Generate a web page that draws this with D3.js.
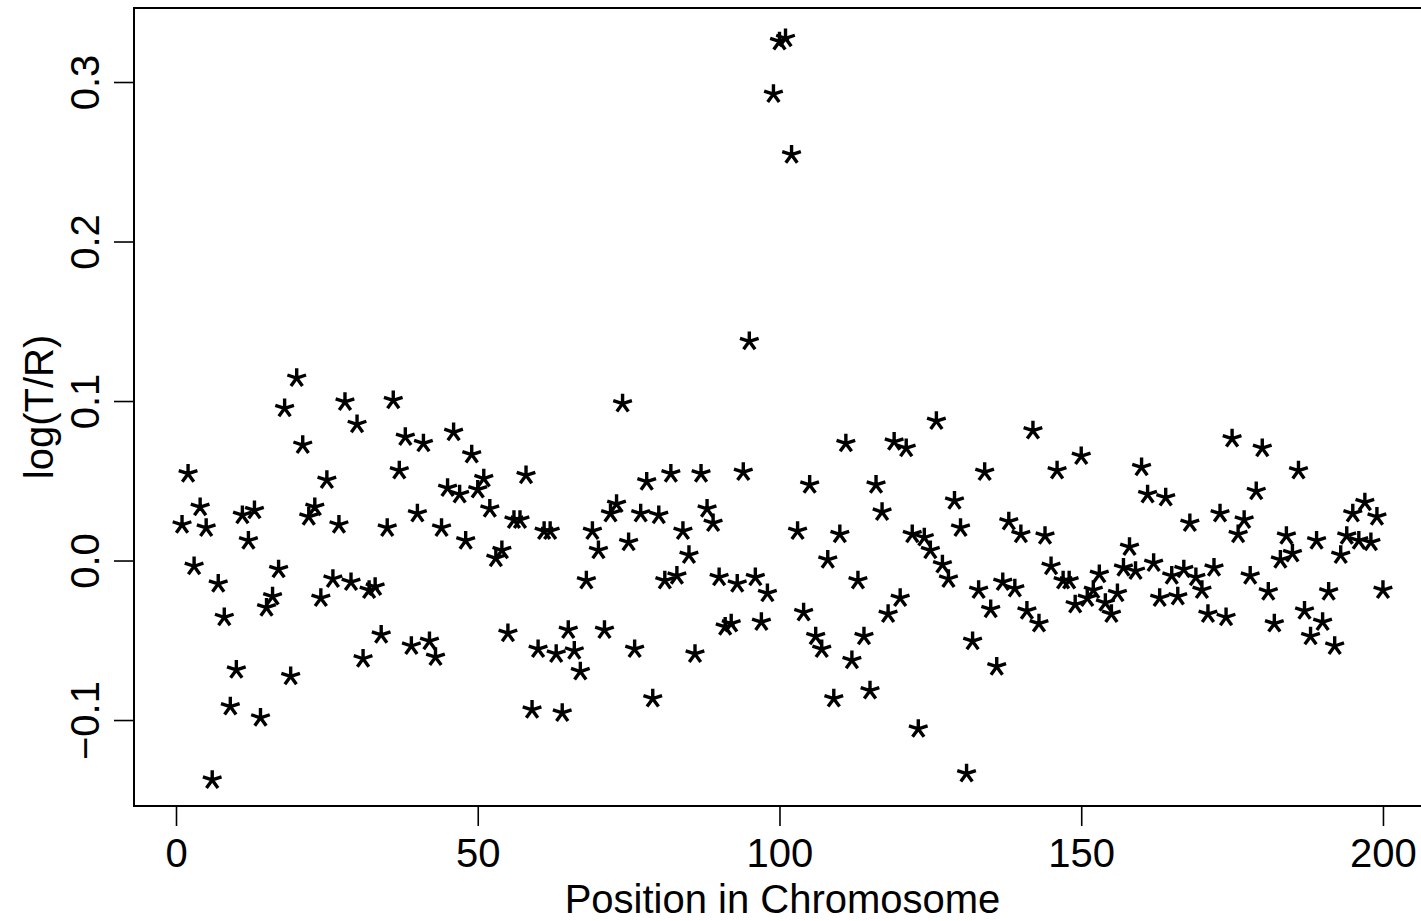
<!DOCTYPE html>
<html>
<head>
<meta charset="utf-8">
<title>log(T/R) along the chromosome</title>
<script src="https://cdn.jsdelivr.net/npm/d3@7/dist/d3.min.js"></script>
<style>
  html, body { margin: 0; padding: 0; background: #ffffff; }
  svg { display: block; }
  text { font-family: "Liberation Sans", Arial, Helvetica, sans-serif; fill: #000; }
</style>
</head>
<body>
<svg id="chart" width="1421" height="921"></svg>
<script>
// log ratio (tumour / reference) at each probe along the chromosome
const logRatio = [
  0.023, 0.055, -0.003, 0.034, 0.021, -0.137, -0.014, -0.035, -0.091, -0.068,
  0.029, 0.013, 0.032, -0.098, -0.029, -0.022, -0.005, 0.096, -0.072, 0.115,
  0.073, 0.028, 0.034, -0.023, 0.051, -0.011, 0.023, 0.100, -0.013, 0.086,
  -0.061, -0.018, -0.016, -0.046, 0.021, 0.101, 0.057, 0.078, -0.053, 0.030,
  0.074, -0.050, -0.060, 0.021, 0.046, 0.081, 0.042, 0.013, 0.067, 0.045,
  0.052, 0.033, 0.002, 0.007, -0.045, 0.026, 0.026, 0.054, -0.093, -0.055,
  0.019, 0.019, -0.058, -0.095, -0.043, -0.056, -0.069, -0.012, 0.019, 0.007,
  -0.043, 0.030, 0.036, 0.099, 0.012, -0.055, 0.030, 0.050, -0.086, 0.029,
  -0.012, 0.055, -0.009, 0.019, 0.004, -0.058, 0.055, 0.033, 0.024, -0.010,
  -0.041, -0.039, -0.014, 0.056, 0.138, -0.010, -0.038, -0.020, 0.293, 0.326,
  0.328, 0.255, 0.019, -0.032, 0.048, -0.047, -0.055, 0.001, -0.086, 0.017,
  0.074, -0.062, -0.012, -0.047, -0.081, 0.048, 0.031, -0.033, 0.075, -0.023,
  0.071, 0.017, -0.105, 0.015, 0.007, 0.088, -0.002, -0.011, 0.038, 0.021,
  -0.133, -0.050, -0.018, 0.056, -0.030, -0.066, -0.013, 0.025, -0.017, 0.017,
  -0.031, 0.082, -0.039, 0.016, -0.003, 0.057, -0.012, -0.012, -0.027, 0.066,
  -0.023, -0.018, -0.008, -0.026, -0.033, -0.020, -0.004, 0.009, -0.006, 0.059,
  0.042, -0.001, -0.023, 0.040, -0.009, -0.022, -0.005, 0.024, -0.010, -0.018,
  -0.033, -0.004, 0.030, -0.035, 0.077, 0.017, 0.026, -0.009, 0.044, 0.071,
  -0.019, -0.039, 0.001, 0.016, 0.005, 0.057, -0.031, -0.047, 0.013, -0.038,
  -0.019, -0.053, 0.004, 0.016, 0.030, 0.013, 0.037, 0.012, 0.028, -0.018
];
// probe index along the chromosome (1..n)
const position = d3.range(1, logRatio.length + 1);

const xTicks = [0, 50, 100, 150, 200];
const yTicks = [-0.1, 0.0, 0.1, 0.2, 0.3];
const xTitle = "Position in Chromosome";
const yTitle = "log(T/R)";

// plotting region
const plot = { left: 134, right: 1431, top: 8, bottom: 806 };
const fontSize = 40;

const svg = d3.select("#chart");

const x = d3.scaleLinear().domain([-6.96, 207.96]).range([plot.left, plot.right]);
const y = d3.scaleLinear().domain([-0.1539, 0.3464]).range([plot.bottom, plot.top]);

// five-armed asterisk, bounding box centred on the point
const armLen = 9.8;
const yShift = armLen * (1 - Math.sin(54 * Math.PI / 180)) / 2;
const starPath = (() => {
  const p = d3.path();
  for (let k = 0; k < 5; k++) {
    const a = (k * 72) * Math.PI / 180;
    p.moveTo(0, yShift);
    p.lineTo(armLen * Math.sin(a), yShift - armLen * Math.cos(a));
  }
  return p.toString();
})();

svg.append("g")
  .selectAll("path")
  .data(position)
  .join("path")
  .attr("d", starPath)
  .attr("transform", (d, i) => `translate(${x(d)},${y(logRatio[i])})`)
  .attr("fill", "none")
  .attr("stroke", "#000")
  .attr("stroke-width", 3.4)
  .attr("stroke-linecap", "butt");

// frame
svg.append("rect")
  .attr("x", plot.left)
  .attr("y", plot.top)
  .attr("width", plot.right - plot.left)
  .attr("height", plot.bottom - plot.top)
  .attr("fill", "none")
  .attr("stroke", "#000")
  .attr("stroke-width", 2);

// bottom axis
const gx = svg.append("g")
  .attr("transform", `translate(0,${plot.bottom})`)
  .call(d3.axisBottom(x).tickValues(xTicks).tickSize(20).tickFormat(d3.format("d")));
gx.select(".domain").remove();
gx.selectAll(".tick line").attr("stroke", "#000").attr("stroke-width", 1.6);
gx.selectAll(".tick text")
  .attr("y", 61)
  .attr("dy", 0)
  .attr("font-size", fontSize)
  .attr("font-family", "'Liberation Sans', Arial, sans-serif");

// left axis, labels written parallel to the axis
const gy = svg.append("g")
  .attr("transform", `translate(${plot.left},0)`)
  .call(d3.axisLeft(y).tickValues(yTicks).tickSize(20).tickFormat(d3.format(".1f")));
gy.select(".domain").remove();
gy.selectAll(".tick line").attr("stroke", "#000").attr("stroke-width", 1.6);
gy.selectAll(".tick text")
  .attr("transform", "rotate(-90)")
  .attr("x", 0)
  .attr("y", -35)
  .attr("dy", 0)
  .attr("text-anchor", "middle")
  .attr("font-size", fontSize)
  .attr("font-family", "'Liberation Sans', Arial, sans-serif");

// axis titles, centred on the plotting region
svg.append("text")
  .attr("x", (plot.left + plot.right) / 2)
  .attr("y", 913)
  .attr("text-anchor", "middle")
  .attr("font-size", fontSize)
  .text(xTitle);

svg.append("text")
  .attr("transform", `translate(53,${(plot.top + plot.bottom) / 2}) rotate(-90)`)
  .attr("text-anchor", "middle")
  .attr("font-size", fontSize)
  .text(yTitle);
</script>
</body>
</html>
